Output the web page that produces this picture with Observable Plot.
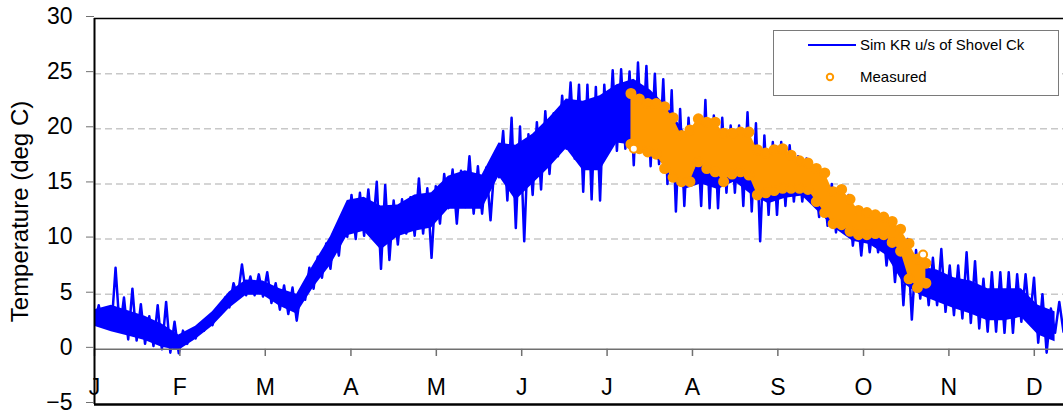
<!DOCTYPE html>
<html>
<head>
<meta charset="utf-8">
<script src="https://cdn.jsdelivr.net/npm/d3@7"></script>
<script src="https://cdn.jsdelivr.net/npm/@observablehq/plot@0.6"></script>
<style>
  html, body { margin: 0; padding: 0; background: #fff; }
  #wrap { position: relative; width: 1063px; height: 415px; font-family: "Liberation Sans", Arial, sans-serif; }
  #legend { position: absolute; left: 773px; top: 30px; width: 286px; height: 66px; box-sizing: border-box;
            border: 1.5px solid #7a7a7a; background: #fff; }
  #legend svg { display: block; }
</style>
</head>
<body>
<div id="wrap"><div id="chart"></div><div id="legend"></div></div>
<script>
// ---- Data ----
// Simulated (Sim KR u/s of Shovel Ck): daily-cycle low/high extremes, one pair every SIM_STEP days from Jan 1
const SIM_STEP = 3;
const simLow = [
  2.2, 2.2, 1.8, 1.7, 0.9, 0.8, 0.5, 0.3, 0.0, -0.3,
  -0.35, 0.5, 1.0, 1.7, 2.2, 3.2, 3.8, 4.7, 4.9, 4.9,
  4.8, 4.2, 3.6, 3.2, 2.6, 4.5, 5.5, 6.5, 7.3, 8.5,
  10.2, 10.0, 10.3, 10.5, 7.3, 8.1, 9.5, 10.5, 10.3, 10.5,
  8.3, 11.4, 12.8, 11.4, 12.9, 12.3, 12.3, 11.7, 15.6, 13.5,
  11.0, 9.8, 14.0, 14.5, 15.9, 17.5, 18.2, 17.3, 14.3, 13.6,
  13.5, 18.2, 18.0, 18.2, 16.7, 18.0, 16.6, 16.8, 15.0, 12.5,
  13.0, 15.0, 13.0, 12.8, 12.8, 14.2, 14.2, 13.0, 12.5, 9.8,
  12.2, 12.2, 13.0, 13.4, 13.4, 13.5, 12.0, 11.2, 10.6, 10.6,
  9.4, 8.5, 8.8, 8.8, 7.6, 6.1, 4.0, 2.7, 4.6, 4.0,
  4.0, 3.4, 3.1, 2.8, 2.4, 1.9, 1.6, 1.6, 1.5, 1.5,
  2.5, 2.5, 0.6, -0.3, 1.5, 1.6
];
const simHigh = [
  4.0, 3.5, 7.4, 4.7, 5.5, 4.1, 3.0, 4.0, 4.3, 2.5,
  1.7, 1.6, 2.3, 2.9, 3.5, 4.7, 6.0, 7.7, 6.6, 6.8,
  7.0, 6.0, 5.8, 5.6, 5.4, 7.4, 8.4, 9.6, 10.8, 12.3,
  14.0, 14.2, 14.5, 15.2, 14.9, 13.5, 13.6, 13.8, 15.5, 14.6,
  14.8, 15.9, 16.3, 16.2, 17.5, 16.6, 16.5, 17.1, 19.8, 21.0,
  20.2, 19.5, 20.6, 21.6, 21.4, 23.0, 24.2, 24.0, 24.0, 23.8,
  24.0, 25.3, 25.4, 25.2, 26.0, 25.7, 25.0, 24.5, 23.5, 21.8,
  21.0, 20.3, 22.6, 21.2, 21.0, 20.3, 20.3, 21.5, 20.5, 19.4,
  18.8, 18.8, 18.5, 17.5, 17.3, 15.5, 15.6, 15.0, 14.0, 14.0,
  12.6, 12.6, 12.0, 12.0, 11.2, 10.5, 10.0, 9.0, 8.5, 8.3,
  9.1, 7.6, 7.6, 8.8, 8.0, 6.4, 7.0, 7.0, 7.0, 6.8,
  6.8, 6.5, 5.0, 3.7, 4.3, 3.6
];
// Simulated: the dense body of the hourly trace, one pair every CORE_STEP days
const CORE_STEP = 6;
const coreLow = [
  2.1, 1.6, 1.2, 0.8, 0.2, -0.1, 0.9, 2.1, 3.7, 4.9,
  4.9, 3.9, 3.2, 5.6, 7.6, 10.3, 10.7, 9.0, 10.2, 10.7,
  11.0, 12.7, 12.7, 12.7, 15.7, 13.5, 15.0, 16.5, 18.2, 16.2,
  16.2, 18.7, 18.5, 17.7, 16.5, 14.5, 15.0, 14.5, 15.2, 14.0,
  13.2, 13.7, 13.9, 12.4, 10.9, 9.8, 9.5, 8.5, 6.0, 4.9,
  4.3, 3.7, 3.2, 2.6, 2.6, 2.9, 1.3, 0.7
];
const coreHigh = [
  3.6, 4.0, 3.5, 3.0, 2.3, 1.3, 2.1, 3.4, 5.2, 6.3,
  6.2, 5.5, 5.0, 7.7, 10.2, 13.5, 13.8, 13.0, 13.1, 14.0,
  14.2, 15.7, 16.2, 15.8, 18.7, 18.5, 19.5, 21.0, 22.7, 22.5,
  23.0, 24.0, 24.5, 23.5, 22.0, 19.7, 20.2, 19.5, 19.0, 18.7,
  17.5, 17.0, 16.2, 15.1, 13.6, 12.2, 11.6, 10.9, 9.2, 7.5,
  7.2, 6.5, 6.2, 5.5, 5.5, 5.5, 4.0, 3.4
];
// Measured: daily low/high of the measured record
const measDay = [191, 194, 197, 200, 203, 206, 209, 212, 215, 218, 221, 224, 227, 230, 233, 236, 239, 242,
                 245, 248, 251, 254, 257, 260, 263, 266, 269, 272, 275, 278, 281, 284, 287, 290, 293, 296];
const measHigh = [23.2, 22.7, 22.3, 22.3, 22.0, 21.0, 19.4, 19.9, 20.9, 20.6, 20.6, 19.6, 19.6, 19.7, 19.7, 18.1, 17.8, 18.1,
                  18.2, 17.6, 17.1, 16.9, 16.4, 16.0, 14.3, 14.5, 13.6, 12.6, 12.4, 12.2, 12.0, 11.6, 10.9, 9.6, 8.2, 7.8];
const measLow = [18.6, 18.2, 17.9, 17.7, 16.4, 15.6, 15.2, 15.2, 17.0, 16.4, 16.1, 15.2, 15.9, 16.1, 15.8, 14.0, 14.2, 14.4,
                 14.6, 14.6, 14.6, 14.5, 13.4, 12.4, 11.4, 11.3, 10.7, 10.4, 10.4, 10.5, 10.4, 9.7, 8.9, 6.4, 5.6, 6.0];
// isolated measured readings
const measOutDay = [192, 295];
const measOutVal = [18.2, 8.6];
// Axis ticks
const monthTicks = [0, 30.4, 60.8, 91.3, 121.7, 152.1, 182.5, 212.9, 243.3, 273.8, 304.2, 334.6];
const monthLabels = ["J", "F", "M", "A", "M", "J", "J", "A", "S", "O", "N", "D"];
const yTicks = [-5, 0, 5, 10, 15, 20, 25, 30];
const gridValues = [5, 10, 15, 20, 25];
const yTitle = "Temperature (deg C)";

const BLUE = "#0000FF", ORANGE = "#FF9900";

// build tables for the library
const simPts = [];
simLow.forEach((lo, i) => {
  simPts.push({day: i * SIM_STEP, t: lo});
  simPts.push({day: i * SIM_STEP + SIM_STEP / 2, t: simHigh[i]});
});
const core = coreLow.map((lo, i) => ({day: Math.min(i * CORE_STEP, 345), lo, hi: coreHigh[i]}));
const meas = measDay.map((d, i) => ({day: d, lo: measLow[i], hi: measHigh[i]}));
const measDots = meas.flatMap(m => [{day: m.day, t: m.lo}, {day: m.day, t: m.hi}]);
const outDots = measOutDay.map((d, i) => ({day: d, t: measOutVal[i]}));

const chart = Plot.plot({
  width: 1063,
  height: 415,
  marginTop: 18,
  marginBottom: 11,
  marginLeft: 94,
  marginRight: 0,
  style: {fontFamily: "'Liberation Sans', Arial, sans-serif", fontSize: "23px", background: "#fff", color: "#000", overflow: "visible"},
  x: {domain: [0, 345], axis: null},
  y: {domain: [-5, 30], axis: null},
  marks: [
    Plot.ruleY(gridValues, {stroke: "#c8c8c8", strokeWidth: 1.5, strokeDasharray: "7,4"}),
    Plot.areaY(core, {x: "day", y1: "lo", y2: "hi", fill: BLUE, clip: true}),
    Plot.line(simPts, {x: "day", y: "t", stroke: BLUE, strokeWidth: 2.5, clip: true}),
    Plot.areaY(meas, {x: "day", y1: "lo", y2: "hi", fill: ORANGE}),
    Plot.dot(measDots, {x: "day", y: "t", r: 4.5, stroke: ORANGE, strokeWidth: 2, fill: ORANGE}),
    Plot.dot(outDots, {x: "day", y: "t", r: 4, stroke: ORANGE, strokeWidth: 2, fill: "#fff"}),
    Plot.ruleY([0], {stroke: "#707070", strokeWidth: 1.5}),
    Plot.ruleX(monthTicks, {y1: 0, y2: -5, insetBottom: 48, stroke: "#707070", strokeWidth: 1.5}),
    Plot.text(monthLabels, {x: (d, i) => monthTicks[i], y: -5, dy: -17, fontSize: 23, fill: "#000"}),
    Plot.ruleY([30], {stroke: "#000", strokeWidth: 1.5}),
    Plot.ruleY([-5], {stroke: "#000", strokeWidth: 2.5}),
    Plot.ruleX([0], {stroke: "#000", strokeWidth: 2}),
    Plot.axisY({ticks: yTicks, tickSize: 8, tickPadding: 14, fontSize: 23, label: null, stroke: "#707070", fill: "#000", dy: -2}),
    Plot.text([yTitle], {x: 0, y: 12.5, dx: -74, rotate: -90, fontSize: 24, fill: "#000"})
  ]
});
document.getElementById("chart").appendChild(chart);

// legend inside the plot area
const lg = d3.select("#legend").append("svg").attr("width", 283).attr("height", 63)
  .style("font-family", "'Liberation Sans', Arial, sans-serif").style("font-size", "15px");
lg.append("line").attr("x1", 34).attr("x2", 82).attr("y1", 14).attr("y2", 14).attr("stroke", BLUE).attr("stroke-width", 2);
lg.append("text").attr("x", 86).attr("y", 14).attr("dy", "0.35em").text("Sim KR u/s of Shovel Ck");
lg.append("circle").attr("cx", 56).attr("cy", 46).attr("r", 3.2).attr("fill", "#fff").attr("stroke", ORANGE).attr("stroke-width", 2);
lg.append("text").attr("x", 86).attr("y", 46).attr("dy", "0.35em").text("Measured");
</script>
</body>
</html>
